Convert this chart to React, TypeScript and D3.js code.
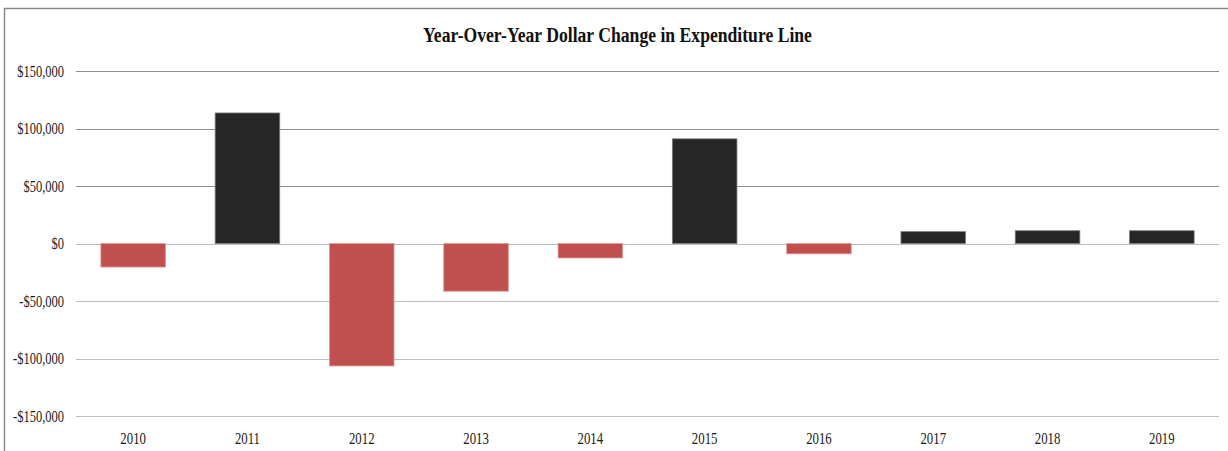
import React from "react";
import * as d3 from "d3";

const years = ["2010", "2011", "2012", "2013", "2014", "2015", "2016", "2017", "2018", "2019"];
const changes = [-20500, 113500, -106500, -41500, -12600, 91000, -9000, 10300, 11100, 11100];
const yTicks = [-150000, -100000, -50000, 0, 50000, 100000, 150000];
const title = "Year-Over-Year Dollar Change in Expenditure Line";

const W = 1228;
const H = 451;
const FONT = "'Liberation Serif', 'DejaVu Serif', serif";

function fmt(v: number) {
  const s = "$" + d3.format(",")(Math.abs(v));
  return v < 0 ? "-" + s : s;
}

export default function App() {
  const x = d3.scaleBand<string>().domain(years).range([76, 1219]).paddingInner(0.435).paddingOuter(0.2175);
  const y = d3.scaleLinear().domain([-150000, 150000]).range([416, 71]);

  return (
    <svg
      width={W}
      height={H}
      style={{ position: "absolute", left: 0, top: 0, background: "#fff" }}
    >
      <rect x={0} y={0} width={W} height={H} fill="#fff" />
      <rect x={4.5} y={8.5} width={W + 20} height={H + 20} fill="none" stroke="#8a8a8a" strokeWidth={1.5} />
      <text
        transform={`translate(${617.5},42) scale(0.84,1)`}
        textAnchor="middle"
        fontFamily={FONT}
        fontWeight="bold"
        fontSize={21}
        fill="#111"
      >
        {title}
      </text>
      {yTicks.map((t) => (
        <g key={t}>
          <line
            x1={76}
            x2={1219}
            y1={Math.round(y(t)) + 0.5}
            y2={Math.round(y(t)) + 0.5}
            stroke={t > 0 ? "#8f8f8f" : "#bdbdbd"}
            strokeWidth={1}
          />
          <text
            transform={`translate(64,${y(t) + 5.5}) scale(0.78,1)`}
            textAnchor="end"
            fontFamily={FONT}
            fontSize={16}
            fill="#1a1a1a"
          >
            {fmt(t)}
          </text>
        </g>
      ))}
      {years.map((yr, i) => {
        const v = changes[i];
        const y0 = y(0);
        const y1 = y(v);
        const neg = v < 0;
        return (
          <rect
            key={yr}
            x={x(yr)}
            y={Math.min(y0, y1)}
            width={x.bandwidth()}
            height={Math.abs(y1 - y0)}
            fill={neg ? "#c0504d" : "#262626"}
            stroke={neg ? "#e49b99" : "#7a7a7a"}
            strokeWidth={0.8}
          />
        );
      })}
      {years.map((yr) => (
        <text
          key={yr}
          transform={`translate(${(x(yr) as number) + x.bandwidth() / 2},443.5) scale(0.8,1)`}
          textAnchor="middle"
          fontFamily={FONT}
          fontSize={16}
          fill="#1a1a1a"
        >
          {yr}
        </text>
      ))}
    </svg>
  );
}
